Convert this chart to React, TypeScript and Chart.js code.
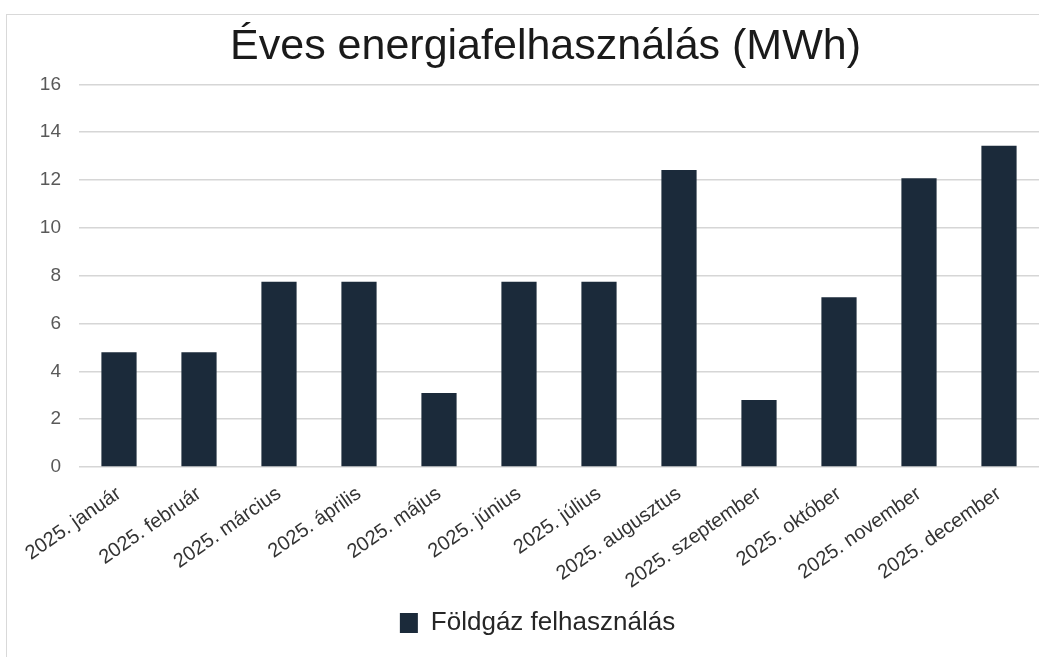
import React, { useEffect, useRef } from "react";
import { Chart, registerables } from "chart.js";

Chart.register(...registerables);

const categories = [
  "2025. január",
  "2025. február",
  "2025. március",
  "2025. április",
  "2025. május",
  "2025. június",
  "2025. július",
  "2025. augusztus",
  "2025. szeptember",
  "2025. október",
  "2025. november",
  "2025. december",
];

const gasUsage = [4.8, 4.8, 7.75, 7.75, 3.1, 7.75, 7.75, 12.42, 2.8, 7.1, 12.08, 13.43];

const seriesLabel = "Földgáz felhasználás";
const chartTitle = "Éves energiafelhasználás (MWh)";
const yTicksMin = 0;
const yTicksMax = 16;
const yTicksStep = 2;

const FONT = "'Liberation Sans', Arial, Helvetica, sans-serif";

const legendShift = {
  id: "legendShift",
  afterLayout(chart: any) {
    const lg = chart.legend;
    if (lg) {
      lg.left -= 8;
      lg.right -= 8;
    }
  },
};

export default function App() {
  const canvasRef = useRef<HTMLCanvasElement | null>(null);

  useEffect(() => {
    if (!canvasRef.current) return;
    const chart = new Chart(canvasRef.current, {
      type: "bar",
      data: {
        labels: categories,
        datasets: [
          {
            label: seriesLabel,
            data: gasUsage,
            backgroundColor: "#1b2a3a",
            borderWidth: 0,
            barPercentage: 0.44,
            categoryPercentage: 1,
          },
        ],
      },
      plugins: [legendShift],
      options: {
        responsive: false,
        animation: false,
        layout: { padding: 0 },
        plugins: {
          title: {
            display: true,
            text: chartTitle,
            color: "#1a1a1a",
            font: { family: FONT, size: 43, weight: "normal", lineHeight: 1.2 },
            padding: { top: 6, bottom: 11.8 },
          },
          legend: {
            display: true,
            position: "bottom",
            labels: {
              color: "#262626",
              font: { family: FONT, size: 26 },
              boxWidth: 18,
              boxHeight: 20,
              padding: 1.5,
            },
          },
          tooltip: { enabled: false },
        },
        scales: {
          x: {
            grid: { display: false, drawTicks: false },
            border: { display: false },
            ticks: {
              color: "#333333",
              font: { family: FONT, size: 20 },
              minRotation: 35,
              maxRotation: 35,
              autoSkip: false,
              padding: 15,
            },
            afterFit: (scale: any) => {
              scale.paddingLeft = 0;
              scale.paddingRight = 0;
            },
          },
          y: {
            min: yTicksMin,
            max: yTicksMax,
            grid: { color: "#d6d6d6", lineWidth: 1.5, drawTicks: false },
            border: { display: false },
            ticks: {
              stepSize: yTicksStep,
              color: "#595959",
              font: { family: FONT, size: 19 },
              padding: 18,
            },
            afterFit: (scale: any) => {
              scale.width = 72;
            },
          },
          yRight: {
            position: "right",
            display: true,
            grid: { display: false, drawTicks: false },
            border: { display: false },
            ticks: { display: false },
            afterFit: (scale: any) => {
              scale.width = 45;
            },
          },
        },
      },
    });
    return () => chart.destroy();
  }, []);

  return (
    <div
      style={{
        position: "fixed",
        left: 0,
        top: 0,
        width: 1039,
        height: 657,
        overflow: "hidden",
        background: "#ffffff",
      }}
    >
      <div
        style={{
          position: "absolute",
          left: 6,
          top: 14,
          width: 1100,
          height: 700,
          border: "1px solid #d9d9d9",
          background: "#ffffff",
        }}
      >
        <canvas ref={canvasRef} width={1077} height={631} style={{ display: "block" }} />
      </div>
    </div>
  );
}
